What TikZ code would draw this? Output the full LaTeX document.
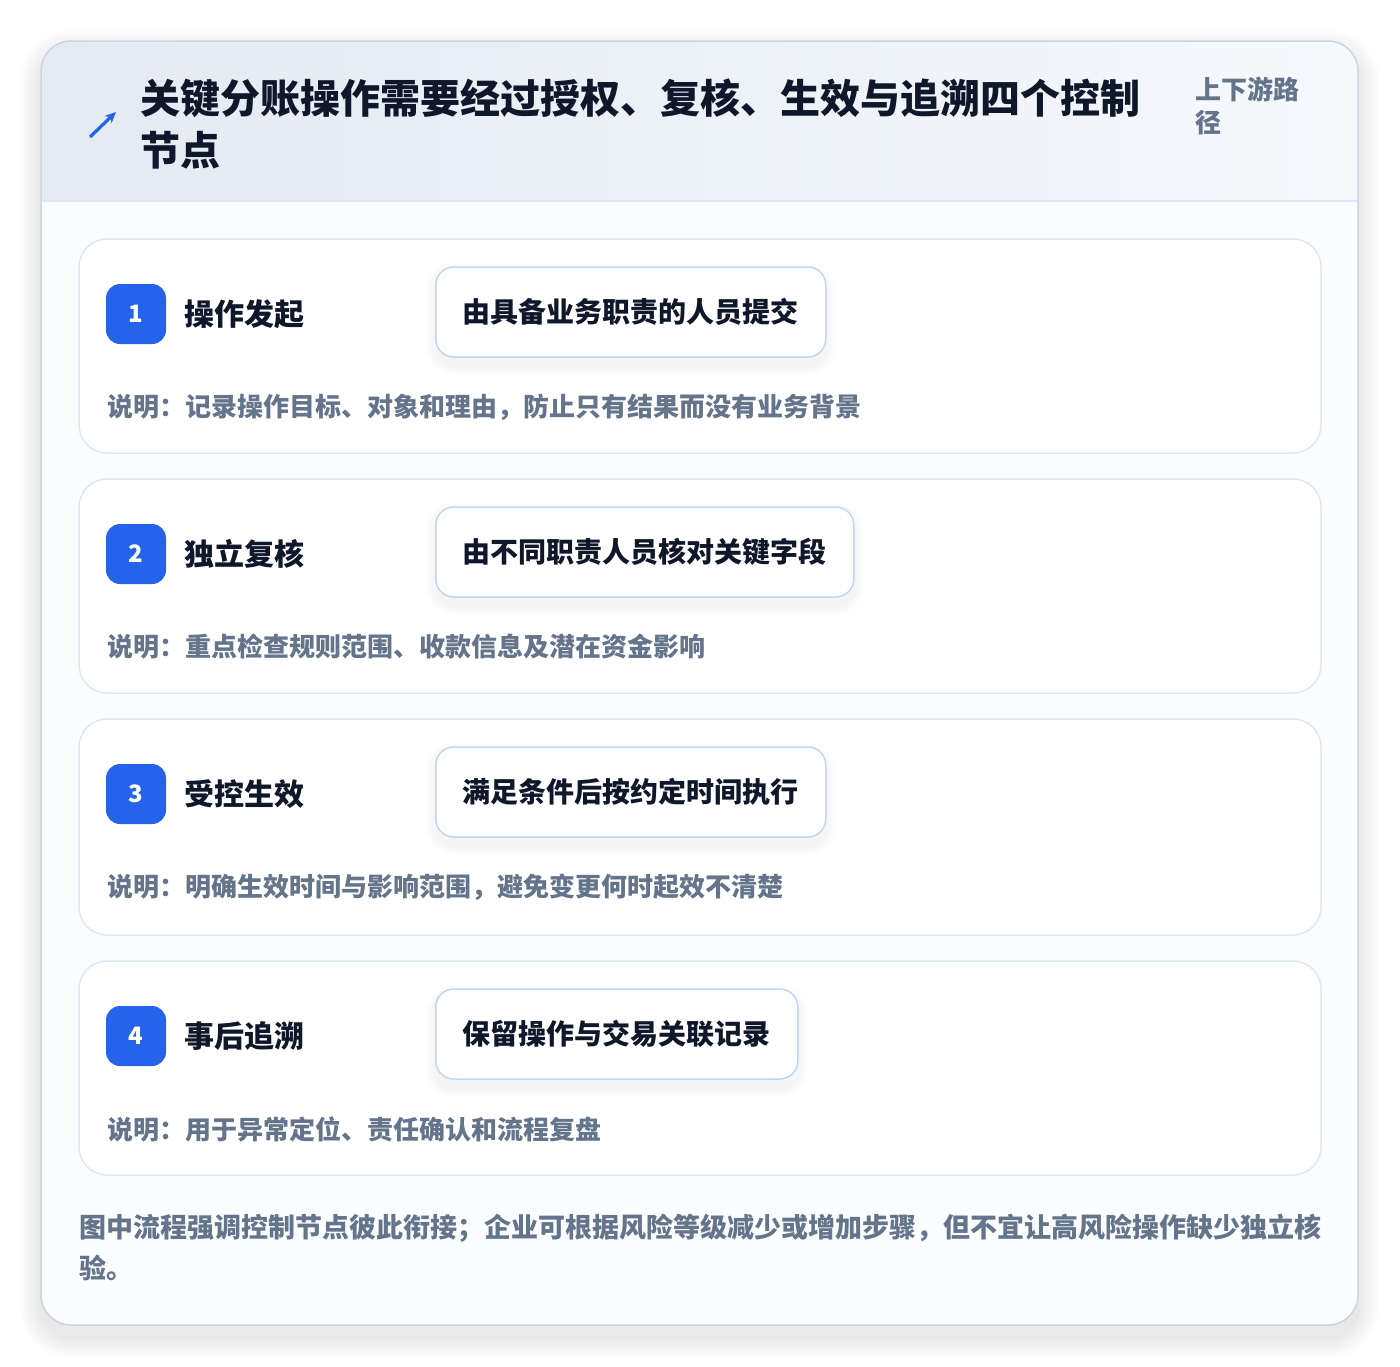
\documentclass[tikz,border=0pt]{standalone}
\usepackage{fontspec}
\setmainfont{Noto Sans CJK SC}
\usetikzlibrary{arrows.meta}
\pgfdeclarelayer{bglayer}
\pgfdeclarelayer{cardlayer}
\pgfdeclarelayer{shadowlayer}
\pgfsetlayers{bglayer,cardlayer,shadowlayer,main}
\definecolor{ink}{HTML}{0F172A}
\definecolor{muted}{HTML}{64748B}
\definecolor{brandblue}{HTML}{2563EB}
\definecolor{cardline}{HTML}{DCE8F7}
\definecolor{tagline}{HTML}{BFD6F4}
\definecolor{outerline}{HTML}{CBD5E1}
\definecolor{headL}{HTML}{E3EAF3}
\definecolor{headR}{HTML}{F6F9FC}
\definecolor{bodyfill}{HTML}{FBFCFE}
\tikzset{
  stepcard/.style={draw=cardline, line width=1.5pt, fill=white, rounded corners=28pt},
  badge/.style={fill=brandblue, rounded corners=14pt, minimum width=60pt, minimum height=60pt, inner sep=0pt, text=white, font=\bfseries\fontsize{24}{28}\selectfont},
  steptitle/.style={anchor=west, inner sep=0pt, text=ink, font=\bfseries\fontsize{30}{36}\selectfont},
  tagbox/.style={anchor=west, draw=tagline, line width=1.5pt, fill=white, rounded corners=18pt, minimum height=90pt, inner xsep=27pt, text=ink, font=\bfseries\fontsize{28}{32}\selectfont},
  desc/.style={anchor=west, inner sep=0pt, text=muted, font=\bfseries\fontsize{26}{30}\selectfont},
}
\begin{document}
\begin{tikzpicture}[x=1pt,y=-1pt]
\useasboundingbox (0,0) rectangle (1400,1366);
\begin{pgfonlayer}{bglayer}
\fill[white] (0,0) rectangle (1400,1366);
% outer shadow
\foreach \i in {1,...,22}{
  \fill[black, opacity=0.005, rounded corners=30pt+\i pt] (41-\i,41-\i+10) rectangle (1358+\i,1325+\i+12);
}
% outer card
\fill[bodyfill, rounded corners=30pt] (41,41) rectangle (1358,1325);
\begin{scope}
  \clip[rounded corners=30pt] (41,41) rectangle (1358,1325);
  \shade[left color=headL, right color=headR] (41,41) rectangle (1358,201);
  \draw[cardline, line width=1.5pt] (41,201) -- (1358,201);
\end{scope}
\draw[outerline, line width=1.5pt, rounded corners=30pt] (41,41) rectangle (1358,1325);
\end{pgfonlayer}
% header
\draw[brandblue, line width=3.2pt, -{Stealth[length=11pt,width=10pt]}] (90,137) -- (116,112);
\node[anchor=west, align=left, inner sep=0pt, text=ink, font=\bfseries\fontsize{40}{52}\selectfont] (title) at (140,124)
  {关键分账操作需要经过授权、复核、生效与追溯四个控制\\节点};
\node[anchor=west, align=left, inner sep=0pt, text=muted, font=\bfseries\fontsize{26}{33}\selectfont] (side) at (1195,106)
  {上下游路\\径};
% steps
\foreach \n/\top/\bot/\ttl/\tag/\dsc in {
  1/239/453/操作发起/由具备业务职责的人员提交/说明：记录操作目标、对象和理由，防止只有结果而没有业务背景,
  2/479/693/独立复核/由不同职责人员核对关键字段/说明：重点检查规则范围、收款信息及潜在资金影响,
  3/719/935/受控生效/满足条件后按约定时间执行/说明：明确生效时间与影响范围，避免变更何时起效不清楚,
  4/961/1175/事后追溯/保留操作与交易关联记录/说明：用于异常定位、责任确认和流程复盘}{
  \begin{pgfonlayer}{cardlayer}
    \draw[stepcard] (79,\top) rectangle (1321,\bot);
  \end{pgfonlayer}
  \node[badge] (b\n) at (136,\top+75) {\n};
  \node[steptitle] (s\n) at (184,\top+75) {\ttl};
  \node[tagbox] (g\n) at (435,\top+73) {\tag};
  \begin{pgfonlayer}{shadowlayer}
    \foreach \k in {1,...,10}{
      \fill[black, opacity=0.005, rounded corners=18pt+\k pt]
        ([xshift=-\k pt, yshift=\k pt-6pt]g\n.north west) rectangle ([xshift=\k pt, yshift=-\k pt-8pt]g\n.south east);
    }
  \end{pgfonlayer}
  \node[desc] (d\n) at (107,\top+168) {\dsc};
}
% footer
\node[anchor=west, align=left, inner sep=0pt, text=muted, font=\bfseries\fontsize{27}{41}\selectfont] (foot) at (79,1247.5)
  {图中流程强调控制节点彼此衔接；企业可根据风险等级减少或增加步骤，但不宜让高风险操作缺少独立核\\验。};
\end{tikzpicture}
\end{document}
